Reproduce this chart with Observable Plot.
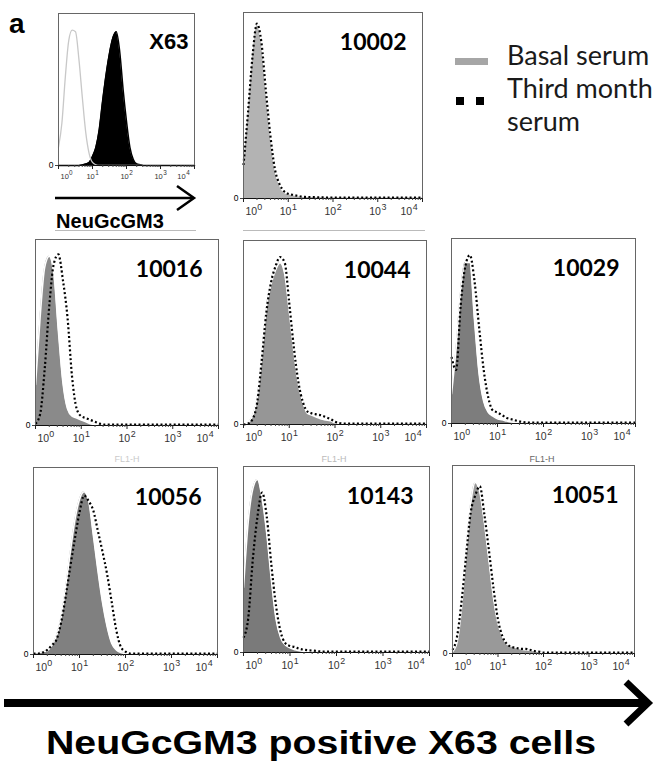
<!DOCTYPE html>
<html><head><meta charset="utf-8">
<script src="https://cdn.jsdelivr.net/npm/d3@7"></script>
<script src="https://cdn.jsdelivr.net/npm/@observablehq/plot@0.6"></script>
<style>
body{margin:0;background:#fff}
#fig{position:relative;width:655px;height:762px;overflow:hidden;background:#fff;font-family:"Liberation Sans",Arial,sans-serif}
#fig svg{position:absolute}
</style></head><body><div id="fig"></div>
<script>
// ---- data (log10 fluorescence grid, histogram heights in % of panel height) ----
const logGrid = [0,0.1,0.2,0.3,0.4,0.5,0.6,0.7,0.8,0.9,1.0,1.1,1.2,1.3,1.4,1.5,1.6,1.7,1.8,1.9,2.0,2.1,2.2,2.3,2.4,2.5,3.0,3.5,4.0];

const x63Control  = [12,28,58,82,89,88,70,45,22,8,2,0.5,0,0,0,0,0,0,0,0,0,0,0,0,0,0,0,0,0];
const x63Stained  = [0,0,0,0,0,0,0,0.3,1,2,6,12,24,43,60,74,84,88,75,50,29,12,4,1,0.5,0,0,0,0];

const basal10002 = [17,44,74,93,83,57,33,15,7,3,2,1.5,1,0.7,0.5,0.5,0.4,0.4,0.3,0.3,0.3,0.3,0.3,0.3,0.3,0.3,0.3,0.3,0.3];
const third10002 = [18,46,76,94,84,58,34,16,8,4,2.5,2,1.5,1,0.8,0.7,0.7,0.6,0.6,0.5,0.5,0.5,0.5,0.5,0.5,0.5,0.5,0.5,0.5];

const basal10016 = [22,58,85,91,82,51,23,9,5,4,3,2,1,0.5,0.3,0.3,0.3,0.3,0.3,0.3,0.3,0.3,0.3,0.3,0.3,0.3,0.3,0.3,0.3];
const third10016 = [1,6,30,64,87,92,78,58,26,9,5,4,3,2,1,0.5,0.5,0.5,0.5,0.5,0.5,0.5,0.5,0.5,0.5,0.5,0.5,0.5,0.5];

const basal10044 = [0,1,5,15,38,64,76,84,88,82,62,40,22,12,6,5,4,3,2.5,2,1,0.7,0.5,0.3,0.3,0.3,0.3,0.3,0.3];
const third10044 = [0,0.5,3,12,35,61,77,86,91,88,66,42,23,12,7,6,5.5,5,4,3,1.5,0.8,0.5,0.5,0.5,0.5,0.5,0.5,0.5];

const basal10029 = [16,41,72,87,87,56,27,12,6,4,2.5,2,1.3,0.8,0.5,0.3,0.3,0.3,0.3,0.3,0.3,0.3,0.3,0.3,0.3,0.3,0.3,0.3,0.3];
const third10029 = [36,29,64,85,91,77,52,29,14,7,6,4.5,3,2.3,1.6,1,0.6,0.5,0.5,0.5,0.5,0.5,0.5,0.5,0.5,0.5,0.5,0.5,0.5];

const basal10056 = [1,1,1.5,2,5,10,20,36,55,72,83,87,82,64,45,28,15,6,2.5,1,0.5,0.3,0.3,0.3,0.3,0.3,0.3,0.3,0.3];
const third10056 = [0.5,0.5,1,2.5,5,8,17,31,47,62,76,85,82,77,66,55,43,28,13,4,1.5,0.5,0.5,0.5,0.5,0.5,0.5,0.5,0.5];

const basal10143 = [35,70,88,93,83,64,39,18,8,4,2.5,1.5,1,0.6,0.4,0.3,0.3,0.3,0.3,0.3,0.3,0.3,0.3,0.3,0.3,0.3,0.3,0.3,0.3];
const third10143 = [8,18,50,73,86,73,47,25,11,5,3.5,3,2,1.5,1.2,1,0.7,0.5,0.5,0.5,0.5,0.5,0.5,0.5,0.5,0.5,0.5,0.5,0.5];

const basal10051 = [1,6,25,55,80,91,86,70,50,30,16,9,5,4,3,2.5,2,1.8,1.5,1,0.5,0.3,0.3,0.3,0.3,0.3,0.3,0.3,0.3];
const third10051 = [2,9,28,52,75,84,89,74,55,35,18,9,5,3.5,3,2.5,2.5,2,1.3,1,0.5,0.5,0.5,0.5,0.5,0.5,0.5,0.5,0.5];

const tickValues = [1,10,100,1000,10000];
const tickBase = "10";
const tickExponents = ["0","1","2","3","4"];
const minorTicks = [2,3,4,5,6,7,8,9,20,30,40,50,60,70,80,90,200,300,400,500,600,700,800,900,2000,3000,4000,5000,6000,7000,8000,9000];
const legendLabels = ["Basal serum","Third month","serum"];
const axisTitle = "NeuGcGM3 positive X63 cells";

// ---- layout & style ----
const panels = [
  {name:"X63",   a:x63Control, b:x63Stained, frame:[58,13,194,165],  kind:"x63", tick:7.5, tickDy:13, lab:[-6,20]},
  {name:"10002", a:basal10002, b:third10002, frame:[243,12,422,198], fill:"#b3b3b3", edge:false},
  {name:"10016", a:basal10016, b:third10016, frame:[35,239,218,425], fill:"#8a8a8a", edge:true},
  {name:"10044", a:basal10044, b:third10044, frame:[243,240,426,424], fill:"#969696", edge:true},
  {name:"10029", a:basal10029, b:third10029, frame:[451,238,635,423], fill:"#7d7d7d", edge:true},
  {name:"10056", a:basal10056, b:third10056, frame:[33,467,217,654], fill:"#808080", edge:true},
  {name:"10143", a:basal10143, b:third10143, frame:[243,466,429,652], fill:"#7a7a7a", edge:true},
  {name:"10051", a:basal10051, b:third10051, frame:[452,465,634,653], fill:"#999999", edge:true}
];

const fig = document.getElementById("fig");

function tickLabelMarks(fs, dy) {
  const ef = fs * 0.85;
  const groups = [[0,1],[1,4],[4,5]];
  const out = [];
  groups.forEach(([s,e], gi) => {
    const vals = tickValues.slice(s,e), exps = tickExponents.slice(s,e);
    const dxBase = gi === 0 ? 2 : gi === 2 ? -5 - ef * 0.6 : -ef * 0.3;
    out.push(Plot.text(vals, {x:d=>d, text:() => tickBase, frameAnchor:"bottom", dy, dx:dxBase, textAnchor: gi === 0 ? "start" : gi === 2 ? "end" : "middle", fontSize:fs, fill:"#333"}));
    const dxExp = gi === 0 ? 2 + fs * 1.12 : gi === 2 ? -5 - ef * 0.6 + 0.5 : -ef * 0.3 + fs * 0.56 + 0.5;
    out.push(Plot.text(vals, {x:d=>d, text:exps, frameAnchor:"bottom", dy: dy - fs * 0.45, dx:dxExp, textAnchor:"start", fontSize:ef, fill:"#333"}));
  });
  return out;
}

function drawPanel(p) {
  const [l,t,r,b] = p.frame;
  const ml = 16, mr = 14, mt = 2, mb = 26;
  const rows = logGrid.map((g,i) => ({x: 10 ** g, a: p.a[i], b: p.b[i]}));
  const tickFs = p.tick || 10.5, tickDy = p.tickDy || 16;
  const curve = "monotone-x";
  const marks = [];
  if (p.kind === "x63") {
    marks.push(Plot.areaY(rows, {x:"x", y:"b", fill:"#000", curve}));
    marks.push(Plot.lineY(rows, {x:"x", y:"b", stroke:"#000", strokeWidth:1.5, curve}));
    marks.push(Plot.lineY(rows, {x:"x", y:"a", stroke:"#c8c8c8", strokeWidth:1.3, curve}));
  } else {
    marks.push(Plot.areaY(rows, {x:"x", y:"a", fill:p.fill, curve}));
    if (p.edge) marks.push(Plot.lineY(rows, {x:"x", y:"a", stroke:"#fff", strokeWidth:1.6, curve}));
    marks.push(Plot.lineY(rows, {x:"x", y:"b", stroke:"#000", strokeWidth:2.2, strokeDasharray:"2,2.4", strokeLinecap:"butt", curve}));
  }
  marks.push(
    Plot.frame({stroke:"#666", strokeWidth:1}),
    Plot.ruleY([0], {stroke:"#111", strokeWidth:1.2}),
    Plot.axisX(tickValues, {tickSize:4, tickFormat:() => "", label:null, stroke:"#222"}),
    Plot.axisX(minorTicks, {tickSize:2, tickFormat:() => "", label:null, stroke:"#444"}),
    Plot.axisY([0], {tickSize:3, tickFormat:() => "0", label:null, fontSize:8.5, tickPadding:2, stroke:"#444"}),
    ...tickLabelMarks(tickFs, tickDy)
  );
  const lab = p.lab || [-16, 21];
  marks.push(Plot.text([p.name], {text:d=>d, frameAnchor:"top-right", dx:lab[0], dy:lab[1], textAnchor:"end", fontWeight:"bold", fontSize: p.kind === "x63" ? 22 : 23, fontFamily: p.kind === "x63" ? "'Liberation Sans',Arial" : "Lato", fill:"#000"}));
  const svg = Plot.plot({
    width: (r - l) + ml + mr, height: (b - t) + mt + mb,
    marginLeft: ml, marginRight: mr, marginTop: mt, marginBottom: mb,
    x: {type:"log", domain:[1, 10000]},
    y: {domain:[0, 100]},
    style: {background:"transparent", fontFamily:"'Liberation Sans',Arial,sans-serif", overflow:"visible"},
    marks
  });
  svg.style.left = (l - ml) + "px";
  svg.style.top = (t - mt) + "px";
  fig.appendChild(svg);
}

// annotations
const ann = d3.create("svg").attr("width",655).attr("height",762).style("left","0px").style("top","0px");
ann.append("text").attr("x",9).attr("y",33).attr("font-family","'Liberation Sans',Arial").attr("font-weight","bold").attr("font-size",28).text("a");
ann.append("line").attr("x1",55).attr("x2",193).attr("y1",198).attr("y2",198).attr("stroke","#000").attr("stroke-width",2.5);
ann.append("polyline").attr("points","177,186 194,198 177,210").attr("fill","none").attr("stroke","#000").attr("stroke-width",2.5);
ann.append("text").attr("x",110).attr("y",228).attr("text-anchor","middle").attr("font-family","'Liberation Sans',Arial").attr("font-weight","bold").attr("font-size",20).text("NeuGcGM3");
ann.append("line").attr("x1",55).attr("x2",196).attr("y1",230.5).attr("y2",230.5).attr("stroke","#bbb");
ann.append("line").attr("x1",243).attr("x2",425).attr("y1",230.5).attr("y2",230.5).attr("stroke","#bbb");
[[127,0.35],[334,0.45],[542,1]].forEach(([x,o]) => {
  ann.append("text").attr("x",x).attr("y",462).attr("text-anchor","middle").attr("font-size",9).attr("fill","#666").attr("opacity",o).text("FL1-H");
});
ann.append("rect").attr("x",455).attr("y",58).attr("width",33).attr("height",7).attr("fill","#a6a6a6");
ann.append("rect").attr("x",456).attr("y",97).attr("width",8).attr("height",8).attr("fill","#000");
ann.append("rect").attr("x",476).attr("y",97).attr("width",8).attr("height",8).attr("fill","#000");
[[65,0],[98,1],[131,2]].forEach(([y,i]) => {
  ann.append("text").attr("x",507).attr("y",y).attr("font-family","Lato").attr("font-size",27).attr("fill","#1a1a1a").text(legendLabels[i]);
});
ann.append("line").attr("x1",4).attr("x2",645).attr("y1",703).attr("y2",703).attr("stroke","#000").attr("stroke-width",8);
ann.append("polyline").attr("points","626,682 648,703 626,724").attr("fill","none").attr("stroke","#000").attr("stroke-width",7);
ann.append("text").attr("x",321).attr("y",754).attr("text-anchor","middle").attr("font-family","'Liberation Sans',Arial").attr("font-weight","bold").attr("font-size",34).attr("textLength",550).attr("lengthAdjust","spacingAndGlyphs").text(axisTitle);
fig.appendChild(ann.node());

panels.forEach(drawPanel);
</script></body></html>
